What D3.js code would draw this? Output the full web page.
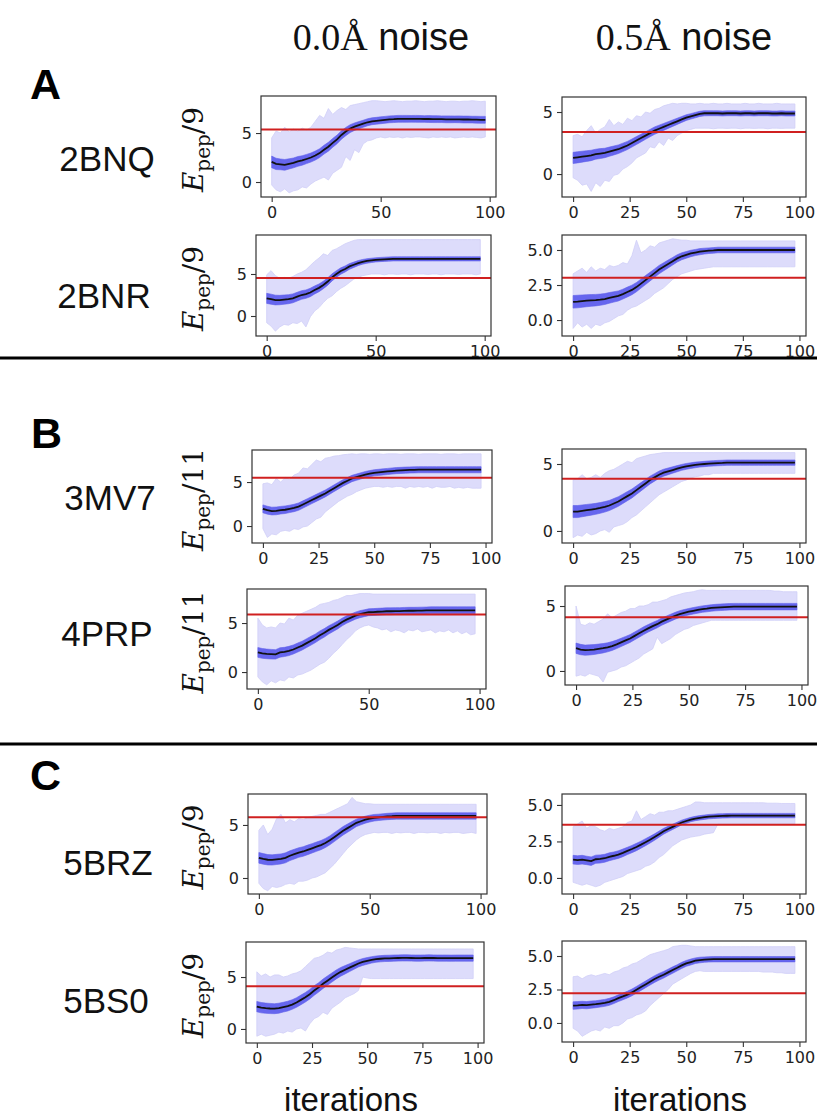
<!DOCTYPE html>
<html><head><meta charset="utf-8">
<script src="https://cdn.jsdelivr.net/npm/d3@7"></script>
<style>body{margin:0;background:#fff}svg{display:block}</style>
</head><body>
<script>
// ---------------- DATA ----------------
const proteins = ["2BNQ","2BNR","3MV7","4PRP","5BRZ","5BS0"];
const groupLetters = ["A","B","C"];
const noiseHeaders = ["0.0Å","0.5Å"];
const yDivisors = ["9","9","11","11","9","9"];
const iterations = [0,2,4,6,8,10,12,14,16,18,20,22,24,26,28,30,32,34,36,38,40,42,44,46,48,50,52,54,56,58,60,62,64,66,68,70,72,74,76,78,80,82,84,86,88,90,92,94,96,98];
const xTicksCoarse = [0,50,100];
const xTicksFine = [0,25,50,75,100];
const yTicksInt = [0,5];
const yTicksHalf = [0,2.5,5];
// reference (red) levels, [0.0Å, 0.5Å] per protein
const refLevels = [[5.35,3.38],[4.52,3.02],[5.5,3.9],[5.88,4.13],[5.72,3.64],[4.11,2.22]];
// y-axis limits per panel [0.0Å, 0.5Å]
const yLimits = [[[-1.53,8.78],[-1.85,6.21]],[[-2.38,9.64],[-1.14,6.07]],[[-1.93,8.64],[-0.9,6.12]],[[-1.73,8.47],[-1.08,6.54]],[[-1.51,7.92],[-1.1,5.75]],[[-1.35,8.37],[-1.42,6.12]]];

// 2BNQ 0.0Å
const mean_2BNQ_0 = [2.05,1.85,1.80,1.75,1.85,1.95,2.10,2.20,2.35,2.50, 2.70,2.95,3.30,3.60,4.00,4.35,4.80,5.15,5.45,5.65, 5.80,5.95,6.10,6.20,6.25,6.30,6.35,6.40,6.42,6.45, 6.45,6.45,6.45,6.45,6.44,6.43,6.43,6.42,6.42,6.41, 6.40,6.40,6.40,6.40,6.38,6.38,6.37,6.36,6.35,6.35];
const sd_2BNQ_0 = [0.60,0.58,0.55,0.55,0.52,0.50,0.50,0.48,0.47,0.46, 0.46,0.45,0.45,0.45,0.45,0.44,0.43,0.42,0.40,0.38, 0.37,0.36,0.36,0.35,0.35,0.35,0.35,0.35,0.35,0.35, 0.35,0.35,0.34,0.35,0.35,0.34,0.35,0.35,0.35,0.34, 0.35,0.35,0.34,0.35,0.35,0.35,0.34,0.35,0.35,0.35];
const min_2BNQ_0 = [-0.30,-0.80,-1.00,-0.70,-1.10,-0.90,-0.80,-0.50,-0.60,-0.20, 0.10,0.30,0.50,0.20,0.90,1.20,1.50,2.60,2.20,3.30, 3.00,3.90,4.20,4.30,4.50,4.60,4.50,4.60,4.55,4.60, 4.50,4.60,4.55,4.60,4.60,4.55,4.50,4.60,4.55,4.60, 4.55,4.60,4.50,4.55,4.60,4.55,4.60,4.55,4.50,4.60];
const max_2BNQ_0 = [4.50,5.20,5.00,5.60,5.10,5.40,5.20,5.50,5.30,5.60, 6.20,6.80,6.50,7.50,6.90,7.30,7.60,7.40,7.80,7.90, 8.00,8.10,8.20,8.30,8.30,8.25,8.20,8.25,8.30,8.25, 8.20,8.25,8.25,8.30,8.25,8.20,8.25,8.25,8.30,8.25, 8.20,8.25,8.25,8.20,8.25,8.25,8.30,8.25,8.20,8.25];
// 2BNQ 0.5Å
const mean_2BNQ_5 = [1.30,1.35,1.40,1.45,1.50,1.60,1.65,1.70,1.80,1.90, 2.00,2.15,2.30,2.50,2.70,2.90,3.10,3.30,3.50,3.65, 3.80,3.95,4.10,4.25,4.40,4.55,4.65,4.75,4.85,4.90, 4.90,4.90,4.90,4.88,4.90,4.90,4.90,4.88,4.90,4.90, 4.88,4.90,4.90,4.90,4.88,4.88,4.90,4.88,4.88,4.88];
const sd_2BNQ_5 = [0.45,0.45,0.44,0.43,0.42,0.40,0.40,0.38,0.37,0.36, 0.35,0.34,0.33,0.32,0.32,0.31,0.30,0.30,0.30,0.29, 0.28,0.27,0.26,0.25,0.24,0.23,0.22,0.22,0.21,0.21, 0.20,0.20,0.20,0.20,0.20,0.20,0.20,0.20,0.20,0.20, 0.20,0.20,0.20,0.20,0.20,0.20,0.20,0.20,0.20,0.20];
const min_2BNQ_5 = [-0.30,-0.50,-0.90,-0.80,-1.40,-0.70,-1.00,-0.50,-0.60,-0.10, 0.00,0.40,0.60,0.90,1.30,1.50,1.70,2.20,2.10,2.60, 2.30,2.90,2.70,3.10,3.30,3.50,3.60,3.70,3.70,3.70, 3.70,3.65,3.70,3.70,3.68,3.70,3.70,3.65,3.70,3.70, 3.68,3.70,3.70,3.65,3.70,3.70,3.68,3.70,3.70,3.70];
const max_2BNQ_5 = [3.10,3.20,3.00,3.50,3.90,3.30,3.60,3.80,4.40,3.90, 4.20,4.00,4.50,4.30,4.70,4.60,5.00,4.90,5.20,5.30, 5.50,5.60,5.70,5.65,5.70,5.70,5.65,5.65,5.70,5.65, 5.65,5.70,5.65,5.65,5.70,5.65,5.65,5.65,5.70,5.65, 5.65,5.70,5.65,5.65,5.65,5.70,5.65,5.65,5.65,5.65];
// 2BNR 0.0Å
const mean_2BNR_0 = [2.10,2.00,1.90,1.90,1.95,2.00,2.10,2.30,2.50,2.60, 2.80,3.10,3.35,3.70,4.10,4.60,5.00,5.35,5.60,5.90, 6.10,6.30,6.45,6.55,6.62,6.68,6.72,6.75,6.78,6.80, 6.80,6.80,6.80,6.80,6.80,6.80,6.80,6.80,6.80,6.80, 6.80,6.80,6.80,6.80,6.80,6.80,6.80,6.80,6.80,6.80];
const sd_2BNR_0 = [0.60,0.60,0.58,0.56,0.55,0.54,0.53,0.52,0.51,0.50, 0.50,0.48,0.46,0.45,0.44,0.42,0.40,0.38,0.36,0.34, 0.32,0.30,0.28,0.27,0.26,0.25,0.25,0.25,0.25,0.25, 0.25,0.25,0.25,0.25,0.25,0.25,0.25,0.25,0.25,0.25, 0.25,0.25,0.25,0.25,0.25,0.25,0.25,0.25,0.25,0.25];
const min_2BNR_0 = [-0.80,-1.20,-1.80,-1.30,-1.00,-1.10,-0.80,-0.90,-0.60,-1.30, -0.10,0.60,1.00,1.60,2.10,2.40,2.90,3.30,3.60,4.00, 4.40,4.60,4.80,4.90,5.00,5.00,5.00,4.90,5.00,5.00, 4.95,5.00,5.00,4.90,5.00,5.00,5.00,4.95,5.00,5.00, 4.90,5.00,5.00,5.00,4.95,5.00,5.00,5.00,4.90,5.00];
const max_2BNR_0 = [4.90,5.40,4.80,4.50,4.60,4.50,4.70,5.00,5.20,5.50, 6.00,6.50,6.90,7.40,7.20,7.80,8.00,8.30,8.60,8.80, 9.00,9.10,9.10,9.10,9.10,9.10,9.10,9.10,9.10,9.10, 9.10,9.10,9.10,9.10,9.10,9.10,9.10,9.10,9.10,9.10, 9.10,9.10,9.10,9.10,9.10,9.10,9.10,9.10,9.10,9.10];
// 2BNR 0.5Å
const mean_2BNR_5 = [1.30,1.32,1.35,1.38,1.40,1.42,1.45,1.50,1.58,1.65, 1.72,1.85,2.00,2.15,2.35,2.60,2.85,3.10,3.35,3.60, 3.80,4.00,4.20,4.40,4.55,4.65,4.75,4.82,4.88,4.92, 4.95,4.97,5.00,5.00,5.00,5.00,5.00,5.00,5.00,5.00, 5.00,5.00,5.00,5.00,5.00,5.00,5.00,5.00,5.00,5.00];
const sd_2BNR_5 = [0.45,0.45,0.44,0.43,0.42,0.41,0.40,0.39,0.38,0.37, 0.36,0.35,0.35,0.34,0.33,0.32,0.32,0.31,0.30,0.30, 0.29,0.28,0.27,0.26,0.25,0.24,0.23,0.22,0.22,0.21, 0.20,0.20,0.20,0.20,0.20,0.20,0.20,0.20,0.20,0.20, 0.20,0.20,0.20,0.20,0.20,0.20,0.20,0.20,0.20,0.20];
const min_2BNR_5 = [-0.60,-0.20,-0.50,-0.30,-0.60,-0.30,-0.40,-0.20,-0.10,0.10, 0.30,0.40,0.70,0.90,1.00,1.20,1.40,1.60,1.90,2.10, 2.30,2.60,2.90,3.10,3.30,3.40,3.50,3.60,3.65,3.70, 3.75,3.80,3.80,3.80,3.80,3.80,3.80,3.80,3.80,3.80, 3.80,3.80,3.80,3.80,3.80,3.80,3.80,3.80,3.80,3.80];
const max_2BNR_5 = [3.30,3.50,3.70,3.40,3.80,3.50,3.70,3.60,3.90,3.80, 3.90,4.10,4.00,4.60,5.70,4.80,5.00,5.30,5.20,5.50, 5.60,5.70,5.80,5.75,5.70,5.70,5.65,5.65,5.65,5.65, 5.65,5.65,5.65,5.65,5.65,5.65,5.65,5.65,5.65,5.65, 5.65,5.65,5.65,5.65,5.65,5.65,5.65,5.65,5.65,5.65];
// 3MV7 0.0Å
const mean_3MV7_0 = [1.95,1.80,1.70,1.72,1.80,1.85,1.95,2.05,2.20,2.45, 2.70,2.95,3.20,3.45,3.70,4.00,4.30,4.60,4.90,5.15, 5.40,5.55,5.70,5.85,5.95,6.05,6.10,6.15,6.20,6.25, 6.30,6.32,6.35,6.37,6.38,6.40,6.40,6.40,6.40,6.40, 6.40,6.40,6.40,6.40,6.40,6.40,6.40,6.40,6.40,6.40];
const sd_3MV7_0 = [0.45,0.45,0.44,0.44,0.43,0.43,0.42,0.42,0.42,0.41, 0.41,0.40,0.40,0.40,0.39,0.39,0.38,0.38,0.37,0.37, 0.36,0.36,0.35,0.35,0.35,0.35,0.35,0.35,0.35,0.35, 0.35,0.35,0.35,0.35,0.35,0.35,0.35,0.35,0.35,0.35, 0.35,0.35,0.35,0.35,0.35,0.35,0.35,0.35,0.35,0.35];
const min_3MV7_0 = [-0.30,-1.30,-0.90,-1.00,-0.60,-0.50,-0.60,-0.30,-0.40,-0.10, 0.00,0.40,0.80,1.00,1.60,2.00,2.40,2.80,3.10,3.40, 3.60,3.90,4.10,4.30,4.40,4.50,4.50,4.40,4.50,4.40, 4.50,4.50,4.30,4.50,4.40,4.50,4.40,4.50,4.30,4.50, 4.40,4.40,4.50,4.30,4.40,4.30,4.40,4.30,4.30,4.30];
const max_3MV7_0 = [4.80,4.90,4.70,5.40,5.00,5.50,5.30,5.80,6.00,6.60, 6.50,7.00,7.50,7.30,7.70,7.80,7.95,8.00,8.10,8.15, 8.20,8.15,8.20,8.20,8.15,8.20,8.20,8.15,8.20,8.20, 8.20,8.15,8.20,8.20,8.20,8.15,8.20,8.20,8.20,8.20, 8.15,8.20,8.20,8.20,8.15,8.20,8.20,8.20,8.20,8.20];
// 3MV7 0.5Å
const mean_3MV7_5 = [1.45,1.45,1.50,1.55,1.60,1.65,1.72,1.80,1.90,2.05, 2.20,2.40,2.60,2.80,3.05,3.30,3.55,3.80,4.00,4.20, 4.35,4.45,4.55,4.65,4.75,4.82,4.88,4.93,4.97,5.00, 5.03,5.05,5.07,5.08,5.10,5.10,5.10,5.10,5.10,5.10, 5.10,5.10,5.10,5.10,5.10,5.10,5.10,5.10,5.10,5.10];
const sd_3MV7_5 = [0.45,0.45,0.44,0.43,0.42,0.41,0.40,0.39,0.38,0.37, 0.36,0.35,0.34,0.33,0.32,0.31,0.30,0.29,0.28,0.27, 0.26,0.25,0.24,0.23,0.22,0.22,0.21,0.21,0.20,0.20, 0.20,0.20,0.20,0.20,0.20,0.20,0.20,0.20,0.20,0.20, 0.20,0.20,0.20,0.20,0.20,0.20,0.20,0.20,0.20,0.20];
const min_3MV7_5 = [-0.50,-0.30,-0.40,-0.10,-0.30,-0.20,0.00,0.10,-0.10,0.30, 0.40,0.50,0.70,1.00,1.20,1.50,1.80,2.10,2.40,2.70, 2.90,3.10,3.30,3.50,3.70,3.80,3.95,4.05,4.10,4.20, 4.20,4.30,4.30,4.30,4.30,4.30,4.30,4.30,4.30,4.30, 4.30,4.30,4.30,4.30,4.30,4.30,4.30,4.30,4.30,4.30];
const max_3MV7_5 = [3.80,3.90,4.20,3.90,4.00,4.20,4.00,4.30,4.50,4.60, 4.80,5.00,5.20,5.10,5.40,5.50,5.60,5.70,5.75,5.80, 5.85,5.85,5.85,5.85,5.85,5.85,5.85,5.85,5.85,5.85, 5.85,5.85,5.85,5.85,5.85,5.85,5.85,5.85,5.85,5.85, 5.85,5.85,5.85,5.85,5.85,5.85,5.85,5.85,5.85,5.85];
// 4PRP 0.0Å
const mean_4PRP_0 = [2.00,1.90,1.85,1.82,1.80,2.00,2.05,2.15,2.30,2.50, 2.70,2.95,3.20,3.45,3.75,4.00,4.30,4.55,4.80,5.10, 5.35,5.55,5.75,5.90,6.00,6.10,6.12,6.15,6.17,6.20, 6.20,6.22,6.22,6.24,6.25,6.25,6.26,6.27,6.28,6.30, 6.30,6.30,6.30,6.30,6.30,6.30,6.30,6.30,6.30,6.30];
const sd_4PRP_0 = [0.50,0.50,0.49,0.49,0.48,0.48,0.47,0.47,0.46,0.46, 0.45,0.45,0.45,0.44,0.44,0.43,0.42,0.41,0.40,0.39, 0.38,0.37,0.36,0.36,0.35,0.35,0.35,0.35,0.35,0.35, 0.35,0.35,0.35,0.35,0.35,0.35,0.35,0.35,0.35,0.35, 0.35,0.35,0.35,0.35,0.35,0.35,0.35,0.35,0.35,0.35];
const min_4PRP_0 = [-0.50,-1.00,-1.30,-0.90,-1.10,-0.80,-0.90,-0.50,-0.60,-0.30, -0.20,0.00,0.20,0.50,0.80,1.00,1.40,1.90,2.30,2.80, 3.30,3.70,4.20,4.50,4.70,4.80,4.60,4.50,4.30,4.40, 4.10,4.30,4.20,4.00,4.30,4.20,4.40,4.10,4.20,4.30, 4.00,4.20,4.10,4.30,4.00,4.20,3.90,4.10,3.80,3.90];
const max_4PRP_0 = [5.50,4.80,4.50,4.60,4.50,5.00,4.90,5.50,5.30,5.80, 6.00,6.20,6.40,6.60,6.90,7.00,7.10,7.30,7.40,7.60, 7.80,7.80,7.90,8.00,8.00,8.00,7.95,7.95,7.95,7.95, 7.95,7.95,7.95,7.95,7.95,7.95,7.95,7.95,7.95,7.95, 7.95,7.95,7.95,7.95,7.95,7.95,7.95,7.95,7.95,7.95];
// 4PRP 0.5Å
const mean_4PRP_5 = [1.75,1.65,1.60,1.62,1.65,1.70,1.75,1.82,1.92,2.05, 2.20,2.35,2.50,2.70,2.90,3.10,3.28,3.45,3.60,3.80, 3.95,4.10,4.25,4.38,4.48,4.56,4.63,4.70,4.76,4.80, 4.85,4.88,4.90,4.92,4.94,4.95,4.95,4.95,4.95,4.95, 4.95,4.95,4.95,4.95,4.95,4.95,4.95,4.95,4.95,4.95];
const sd_4PRP_5 = [0.40,0.40,0.39,0.39,0.38,0.37,0.36,0.35,0.34,0.33, 0.32,0.31,0.30,0.30,0.30,0.30,0.29,0.29,0.28,0.28, 0.27,0.27,0.26,0.26,0.25,0.25,0.25,0.25,0.25,0.25, 0.25,0.25,0.25,0.25,0.25,0.25,0.25,0.25,0.25,0.25, 0.25,0.25,0.25,0.25,0.25,0.25,0.25,0.25,0.25,0.25];
const min_4PRP_5 = [-0.40,-0.30,-0.40,-0.20,-0.30,-0.40,-0.85,-0.10,0.00,0.10, 0.30,0.40,0.60,0.80,1.00,1.30,1.50,1.70,2.60,2.10, 2.30,2.50,2.80,3.00,3.20,3.30,3.50,3.60,3.70,3.80, 3.90,3.90,3.90,3.90,3.90,3.90,3.90,3.90,3.90,3.90, 3.90,3.90,3.90,3.90,3.90,3.90,3.90,3.90,3.90,3.90];
const max_4PRP_5 = [5.00,3.60,3.50,3.70,3.60,3.80,4.00,4.40,4.10,4.30, 4.50,4.60,4.80,4.80,5.00,5.00,5.10,5.30,5.30,5.40, 5.50,5.70,5.80,5.90,6.00,6.05,6.10,6.20,6.25,6.20, 6.20,6.20,6.20,6.20,6.20,6.20,6.20,6.20,6.20,6.20, 6.20,6.20,6.20,6.20,6.15,6.15,6.10,6.10,6.10,6.10];
// 5BRZ 0.0Å
const mean_5BRZ_0 = [1.90,1.80,1.72,1.70,1.75,1.80,1.90,2.10,2.25,2.40, 2.50,2.65,2.80,2.95,3.10,3.30,3.55,3.85,4.15,4.45, 4.70,4.95,5.20,5.35,5.50,5.60,5.68,5.72,5.76,5.80, 5.82,5.85,5.85,5.85,5.85,5.85,5.85,5.85,5.85,5.85, 5.85,5.85,5.85,5.85,5.85,5.85,5.85,5.85,5.85,5.85];
const sd_5BRZ_0 = [0.50,0.50,0.49,0.48,0.48,0.47,0.47,0.46,0.46,0.45, 0.45,0.45,0.44,0.44,0.43,0.43,0.42,0.42,0.41,0.40, 0.39,0.37,0.35,0.34,0.33,0.32,0.31,0.30,0.30,0.30, 0.30,0.30,0.30,0.30,0.30,0.30,0.30,0.30,0.30,0.30, 0.30,0.30,0.30,0.30,0.30,0.30,0.30,0.30,0.30,0.30];
const min_5BRZ_0 = [-0.50,-1.00,-1.20,-0.80,-0.90,-0.80,-0.60,-0.50,-0.60,-0.30, -0.30,-0.20,0.00,0.10,0.30,0.50,0.90,1.30,1.80,2.30, 2.80,3.20,3.60,3.90,4.10,4.20,4.30,4.25,4.30,4.30, 4.20,4.30,4.25,4.30,4.30,4.20,4.30,4.30,4.25,4.30, 4.30,4.20,4.30,4.25,4.30,4.30,4.20,4.25,4.30,4.20];
const max_5BRZ_0 = [4.50,5.00,4.10,4.60,5.60,6.00,5.20,5.50,5.30,5.60, 5.50,5.70,5.80,5.90,6.00,6.00,6.20,6.40,6.60,6.80, 7.00,7.60,7.20,7.10,7.00,7.00,6.95,6.95,6.95,6.95, 6.95,6.95,6.95,6.95,6.95,6.95,6.95,6.95,6.95,6.95, 6.95,6.95,6.95,6.95,6.95,6.95,6.95,6.95,6.95,6.95];
// 5BRZ 0.5Å
const mean_5BRZ_5 = [1.25,1.22,1.25,1.20,1.15,1.28,1.30,1.35,1.45,1.52, 1.60,1.72,1.85,1.98,2.12,2.28,2.45,2.62,2.80,3.00, 3.20,3.35,3.50,3.65,3.80,3.90,4.00,4.07,4.12,4.16, 4.20,4.22,4.24,4.25,4.26,4.27,4.27,4.27,4.27,4.27, 4.27,4.27,4.27,4.27,4.27,4.27,4.27,4.27,4.27,4.27];
const sd_5BRZ_5 = [0.30,0.30,0.30,0.29,0.29,0.28,0.28,0.27,0.27,0.26, 0.26,0.26,0.25,0.25,0.25,0.24,0.24,0.23,0.22,0.21, 0.20,0.19,0.18,0.17,0.16,0.16,0.15,0.15,0.15,0.15, 0.15,0.15,0.15,0.15,0.15,0.15,0.15,0.15,0.15,0.15, 0.15,0.15,0.15,0.15,0.15,0.15,0.15,0.15,0.15,0.15];
const min_5BRZ_5 = [-0.30,-0.40,-0.50,-0.40,-0.50,-0.60,-0.50,-0.30,-0.20,-0.10, 0.00,0.10,0.30,0.40,0.50,0.60,0.80,0.90,1.10,1.40, 1.60,1.90,2.20,2.40,2.60,2.70,2.80,2.85,2.90,3.00, 3.05,3.10,3.70,3.70,3.70,3.70,3.70,3.70,3.70,3.70, 3.70,3.70,3.70,3.70,3.70,3.70,3.70,3.70,3.70,3.70];
const max_5BRZ_5 = [3.50,3.70,3.90,3.40,3.60,3.50,3.30,3.20,3.40,3.30, 3.40,3.50,3.80,3.90,4.60,4.00,4.20,4.40,4.30,4.50, 4.50,4.60,4.60,4.70,4.80,4.90,5.00,5.20,5.20,5.15, 5.15,5.15,5.15,5.15,5.15,5.15,5.15,5.15,5.15,5.15, 5.15,5.15,5.15,5.12,5.12,5.12,5.10,5.10,5.10,5.10];
// 5BS0 0.0Å
const mean_5BS0_0 = [2.15,2.05,2.00,1.97,1.95,2.00,2.10,2.20,2.35,2.55, 2.80,3.05,3.35,3.70,4.00,4.35,4.65,4.95,5.25,5.50, 5.70,5.90,6.10,6.30,6.45,6.55,6.65,6.72,6.76,6.79, 6.80,6.82,6.83,6.84,6.84,6.83,6.82,6.82,6.83,6.84, 6.83,6.82,6.82,6.82,6.81,6.82,6.82,6.82,6.82,6.82];
const sd_5BS0_0 = [0.50,0.50,0.49,0.49,0.48,0.48,0.47,0.47,0.46,0.46, 0.46,0.46,0.46,0.46,0.45,0.45,0.45,0.44,0.43,0.42, 0.40,0.38,0.36,0.34,0.33,0.32,0.31,0.30,0.30,0.30, 0.30,0.30,0.30,0.30,0.30,0.30,0.30,0.30,0.30,0.30, 0.30,0.30,0.30,0.30,0.30,0.30,0.30,0.30,0.30,0.30];
const min_5BS0_0 = [-0.70,-0.50,-0.70,-0.60,-0.50,-0.30,-0.40,-0.20,-0.30,0.00, 0.10,-0.20,0.50,1.00,1.20,1.60,1.40,2.00,2.30,2.60, 3.00,3.20,3.40,3.70,5.00,4.90,4.85,4.85,4.85,4.85, 4.85,4.85,4.85,4.85,4.85,4.85,4.85,4.85,4.85,4.85, 4.85,4.85,4.85,4.85,4.85,4.85,4.85,4.85,4.85,4.85];
const max_5BS0_0 = [5.50,5.10,5.30,5.00,5.20,5.20,5.00,5.10,5.30,5.40, 5.60,6.00,6.40,6.80,6.90,7.10,7.40,7.30,7.60,7.70, 7.85,7.80,7.75,7.70,7.70,7.70,7.70,7.70,7.70,7.70, 7.70,7.70,7.70,7.70,7.70,7.70,7.70,7.70,7.70,7.70, 7.70,7.70,7.70,7.70,7.70,7.70,7.70,7.70,7.70,7.70];
// 5BS0 0.5Å
const mean_5BS0_5 = [1.30,1.32,1.35,1.33,1.37,1.40,1.45,1.50,1.58,1.70, 1.85,1.98,2.12,2.28,2.48,2.68,2.88,3.08,3.28,3.45, 3.60,3.78,3.95,4.12,4.30,4.45,4.55,4.65,4.70,4.73, 4.75,4.76,4.76,4.76,4.76,4.76,4.76,4.76,4.76,4.76, 4.76,4.76,4.76,4.76,4.76,4.76,4.76,4.76,4.76,4.76];
const sd_5BS0_5 = [0.28,0.28,0.27,0.27,0.27,0.26,0.26,0.26,0.26,0.25, 0.25,0.25,0.25,0.25,0.25,0.25,0.25,0.25,0.25,0.25, 0.25,0.24,0.24,0.23,0.23,0.22,0.22,0.21,0.21,0.20, 0.20,0.20,0.20,0.20,0.20,0.20,0.20,0.20,0.20,0.20, 0.20,0.20,0.20,0.20,0.20,0.20,0.20,0.20,0.20,0.20];
const min_5BS0_5 = [-0.40,-0.60,-1.00,-0.80,-0.60,-0.50,-0.60,-0.30,-0.40,-0.20, -0.20,0.00,0.30,0.40,0.60,0.70,0.90,1.30,1.60,1.90, 2.20,2.50,2.90,3.10,3.30,3.50,3.70,3.85,3.90,3.85, 3.85,3.85,3.85,3.85,3.85,3.85,3.85,3.85,3.85,3.85, 3.85,3.85,3.80,3.80,3.80,3.75,3.75,3.70,3.70,3.70];
const max_5BS0_5 = [3.45,3.50,3.30,3.50,3.60,3.50,3.60,3.70,3.60,3.80, 3.90,4.10,4.20,4.40,4.50,4.70,4.90,5.10,5.20,5.30, 5.40,5.50,5.70,5.75,5.80,5.80,5.75,5.70,5.70,5.70, 5.70,5.70,5.70,5.70,5.70,5.70,5.70,5.70,5.70,5.70, 5.70,5.70,5.70,5.70,5.70,5.70,5.70,5.70,5.70,5.70];

// ---------------- LAYOUT ----------------
const W = 817, H = 1117;
const boxes = [ // [left, top, right, bottom] for [0.0Å, 0.5Å]
  [[261,96,496,197],[562,97,806,197]],
  [[256,235,491,336],[562,235,806,336]],
  [[252,450,492,543],[562,449,806,543]],
  [[247,589,486,689],[565,586,808,685]],
  [[248,794,487,894],[562,794,806,894]],
  [[246,942,484,1043],[562,941,806,1042]]
];
const series = {
  "2BNQ":[[mean_2BNQ_0,sd_2BNQ_0,min_2BNQ_0,max_2BNQ_0],[mean_2BNQ_5,sd_2BNQ_5,min_2BNQ_5,max_2BNQ_5]],
  "2BNR":[[mean_2BNR_0,sd_2BNR_0,min_2BNR_0,max_2BNR_0],[mean_2BNR_5,sd_2BNR_5,min_2BNR_5,max_2BNR_5]],
  "3MV7":[[mean_3MV7_0,sd_3MV7_0,min_3MV7_0,max_3MV7_0],[mean_3MV7_5,sd_3MV7_5,min_3MV7_5,max_3MV7_5]],
  "4PRP":[[mean_4PRP_0,sd_4PRP_0,min_4PRP_0,max_4PRP_0],[mean_4PRP_5,sd_4PRP_5,min_4PRP_5,max_4PRP_5]],
  "5BRZ":[[mean_5BRZ_0,sd_5BRZ_0,min_5BRZ_0,max_5BRZ_0],[mean_5BRZ_5,sd_5BRZ_5,min_5BRZ_5,max_5BRZ_5]],
  "5BS0":[[mean_5BS0_0,sd_5BS0_0,min_5BS0_0,max_5BS0_0],[mean_5BS0_5,sd_5BS0_5,min_5BS0_5,max_5BS0_5]]
};
const xTickSets = [[xTicksCoarse,xTicksFine],[xTicksCoarse,xTicksFine],[xTicksFine,xTicksFine],[xTicksCoarse,xTicksFine],[xTicksCoarse,xTicksFine],[xTicksFine,xTicksFine]];
const yTickSets = [[yTicksInt,yTicksInt],[yTicksInt,yTicksHalf],[yTicksInt,yTicksInt],[yTicksInt,yTicksInt],[yTicksInt,yTicksHalf],[yTicksInt,yTicksHalf]];
const labelPos = [[107,171],[104,308],[110,510],[107,646],[108,875],[106,1013]];

const svg = d3.select("body").append("svg").attr("width",W).attr("height",H)
  .style("font-family","'Liberation Sans', Arial, sans-serif");

// headers
[[381,0],[684,1]].forEach(([cx,i])=>{
  const t = svg.append("text").attr("x",cx).attr("y",50).attr("text-anchor","middle").attr("font-size",38).attr("fill","#111");
  t.append("tspan").attr("font-family","'Liberation Serif', 'Times New Roman', serif").text(noiseHeaders[i]);
  t.append("tspan").attr("font-family","'Liberation Sans', Arial, sans-serif").text(" noise");
});
// group letters
[[30,99],[31,448],[30,790]].forEach(([x,y],i)=>{
  svg.append("text").attr("x",x).attr("y",y).attr("font-size",43).attr("font-weight","bold").attr("fill","#000").text(groupLetters[i]);
});
// separators
[358,744].forEach(yy=>svg.append("line").attr("x1",0).attr("x2",W).attr("y1",yy).attr("y2",yy).attr("stroke","#000").attr("stroke-width",3));
// iterations
[351,680].forEach(cx=>svg.append("text").attr("x",cx).attr("y",1111).attr("text-anchor","middle").attr("font-size",33).attr("fill","#111").text("iterations"));

const fmtInt = d3.format("d"), fmtHalf = d3.format(".1f");

proteins.forEach((prot,r)=>{
  svg.append("text").attr("x",labelPos[r][0]).attr("y",labelPos[r][1]).attr("text-anchor","middle").attr("font-size",35).attr("fill","#111").text(prot);
  [0,1].forEach(c=>{
    const [L,T,R,B] = boxes[r][c];
    const [meanA,sdA,minA,maxA] = series[prot][c];
    const x = d3.scaleLinear().domain([-4.9,102.9]).range([L,R]);
    const y = d3.scaleLinear().domain(yLimits[r][c]).range([B,T]);
    const g = svg.append("g");
    const cid = `clip-${r}-${c}`;
    g.append("clipPath").attr("id",cid).append("rect").attr("x",L).attr("y",T).attr("width",R-L).attr("height",B-T);
    const pg = g.append("g").attr("clip-path",`url(#${cid})`);
    const idx = d3.range(iterations.length);
    pg.append("path").datum(idx)
      .attr("d", d3.area().x(k=>x(iterations[k])).y0(k=>y(minA[k])).y1(k=>y(maxA[k])))
      .attr("fill","#dddcfb").attr("stroke","#d0cff8").attr("stroke-width",0.8);
    pg.append("path").datum(idx)
      .attr("d", d3.area().x(k=>x(iterations[k])).y0(k=>y(meanA[k]-sdA[k])).y1(k=>y(meanA[k]+sdA[k])))
      .attr("fill","#6666ee").attr("stroke","#6060ea").attr("stroke-width",0.6);
    pg.append("path").datum(idx)
      .attr("d", d3.line().x(k=>x(iterations[k])).y(k=>y(meanA[k])))
      .attr("fill","none").attr("stroke","#111").attr("stroke-width",1.8);
    pg.append("line").attr("x1",x.range()[0]).attr("x2",x.range()[1])
      .attr("y1",y(refLevels[r][c])).attr("y2",y(refLevels[r][c]))
      .attr("stroke","#d02020").attr("stroke-width",2);
    g.append("rect").attr("x",L).attr("y",T).attr("width",R-L).attr("height",B-T)
      .attr("fill","none").attr("stroke","#333").attr("stroke-width",1.2);
    const ax = g.append("g").attr("transform",`translate(0,${B})`)
      .call(d3.axisBottom(x).tickValues(xTickSets[r][c]).tickSize(5).tickPadding(5).tickFormat(fmtInt));
    const yt = yTickSets[r][c];
    const ay = g.append("g").attr("transform",`translate(${L},0)`)
      .call(d3.axisLeft(y).tickValues(yt).tickSize(5).tickPadding(4).tickFormat(yt.includes(2.5)?fmtHalf:fmtInt));
    [ax,ay].forEach(a=>{
      a.select(".domain").remove();
      a.selectAll("line").attr("stroke","#333").attr("stroke-width",1.1);
      a.selectAll("text").attr("font-family","'DejaVu Sans', sans-serif").attr("font-size",16).attr("fill","#222");
    });
    if(c===0){
      const cy = (T+B)/2 + 3;
      const lt = svg.append("text").attr("transform",`translate(203,${cy}) rotate(-90)`)
        .attr("text-anchor","middle").attr("font-family","'DejaVu Serif', serif").attr("font-size",28).attr("fill","#111");
      lt.append("tspan").attr("font-style","italic").text("E");
      lt.append("tspan").attr("font-size",20).attr("dy",7).text("pep");
      lt.append("tspan").attr("dy",-7).text("/" + yDivisors[r]);
    }
  });
});
</script>
</body></html>
